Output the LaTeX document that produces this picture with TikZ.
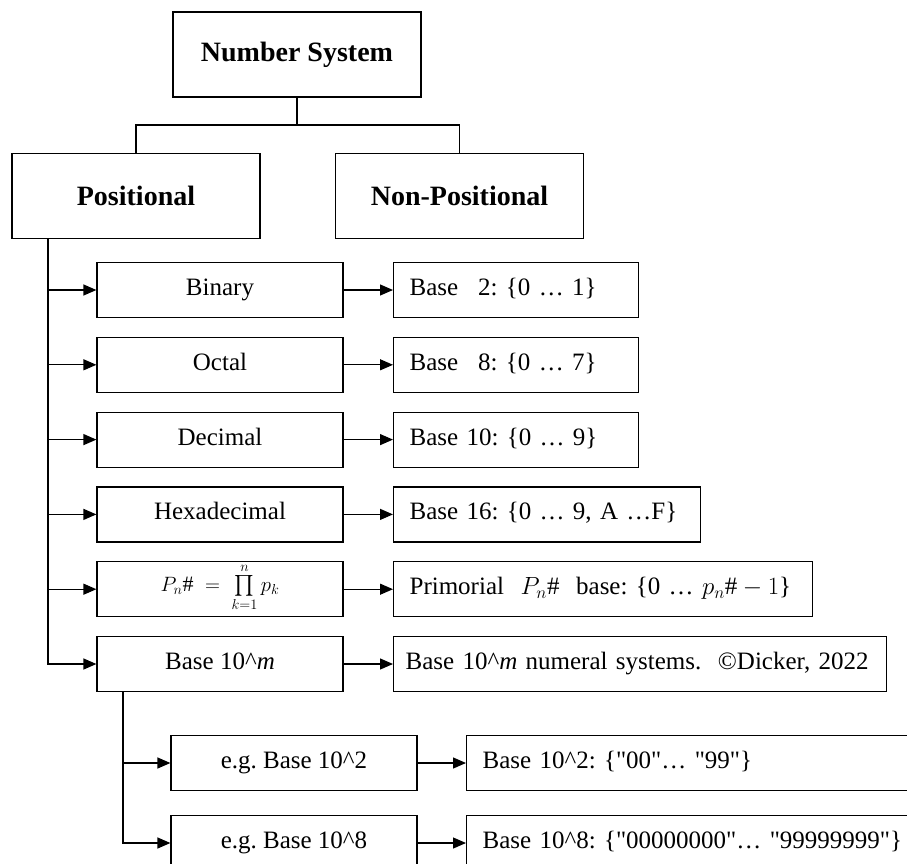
\documentclass[tikz,border=0pt]{standalone}
\usepackage{amsmath}
\usepackage{fontspec}
\setmainfont{Liberation Serif}
\usetikzlibrary{arrows.meta}
\newcommand{\qt}{\textquotedbl}

\begin{document}
\frenchspacing
\begin{tikzpicture}[x=1pt, y=-1pt, line width=1.2pt,
  >={Triangle[length=13pt, width=11pt]},
  every node/.style={rectangle, draw, line width=1.2pt, inner sep=0pt,
    font=\fontsize{25}{30}\selectfont},
  headbox/.style={minimum width=248pt, minimum height=85pt,
    font=\fontsize{28}{32}\selectfont\bfseries},
  sysbox/.style={minimum width=246pt, minimum height=55pt,
    text height=17pt, text depth=6pt},
  basebox/.style={anchor=west, minimum height=55pt, inner xsep=16pt, align=left,
    text height=17pt, text depth=6pt}]
\useasboundingbox (0,0) rectangle (907,864);
\clip (0,0) rectangle (907,864);
% top of the tree
\node[headbox] (NS) at (297,54.5) {Number System};
\node[headbox] (POS) at (136,196) {Positional};
\node[headbox] (NPOS) at (459.5,196) {Non-Positional};
\coordinate (J) at (297,125);
\draw (NS) -- (J) -| (POS);
\draw (J) -| (NPOS);
% positional systems
\node[sysbox] (S0) at (220,290) {Binary};
\node[sysbox] (S1) at (220,364.8) {Octal};
\node[sysbox] (S2) at (220,439.6) {Decimal};
\node[sysbox] (S3) at (220,514.4) {Hexadecimal};
\node[sysbox, text height=23pt, text depth=19pt, font=\fontsize{22}{26}\selectfont] (S4) at (220,589.2) {$P_n\# \;=\; \prod\limits_{k=1}^{n} p_k$};
\node[sysbox] (S5) at (220,664) {Base 10\textasciicircum\textit{m}};
% their digit sets
\node[basebox, text width=213pt] (B0) at (393,290) {Base\hspace{0.8em}2: \{0 … 1\}};
\node[basebox, text width=213pt] (B1) at (393,364.8) {Base\hspace{0.8em}8: \{0 … 7\}};
\node[basebox, text width=213pt] (B2) at (393,439.6) {Base 10: \{0 … 9\}};
\node[basebox, text width=275pt] (B3) at (393,514.4) {Base 16: \{0 … 9, A …F\}};
\node[basebox, text width=387pt] (B4) at (393,589.2) {Primorial\ \ $P_n\#$\ \ base: \{0 … $p_n\#-1$\}};
\node[basebox, text width=469pt, inner xsep=12pt] (B5) at (393,664) {Base 10\textasciicircum\textit{m} numeral systems.\ \ ©Dicker, 2022};
% examples of base 10^m
\node[sysbox] (E0) at (294,763) {e.g. Base 10\textasciicircum 2};
\node[sysbox] (E1) at (294,843) {e.g. Base 10\textasciicircum 8};
\node[basebox, text width=440pt] (F0) at (466,763) {Base 10\textasciicircum 2: \{\qt 00\qt… \qt 99\qt\}};
\node[basebox, text width=440pt] (F1) at (466,843) {Base 10\textasciicircum 8: \{\qt 00000000\qt… \qt 99999999\qt\}};
% trunks and arrows
\coordinate (T0) at (48,238.5);
\draw[->] (T0) |- (S5);
\draw[->] (T0 |- S0) -- (S0);
\draw[->] (T0 |- S1) -- (S1);
\draw[->] (T0 |- S2) -- (S2);
\draw[->] (T0 |- S3) -- (S3);
\draw[->] (T0 |- S4) -- (S4);
\draw[->] (S0) -- (B0);
\draw[->] (S1) -- (B1);
\draw[->] (S2) -- (B2);
\draw[->] (S3) -- (B3);
\draw[->] (S4) -- (B4);
\draw[->] (S5) -- (B5);
\coordinate (T1) at (123,691.5);
\draw[->] (T1) |- (E1);
\draw[->] (T1 |- E0) -- (E0);
\draw[->] (E0) -- (F0);
\draw[->] (E1) -- (F1);
\end{tikzpicture}
\end{document}
